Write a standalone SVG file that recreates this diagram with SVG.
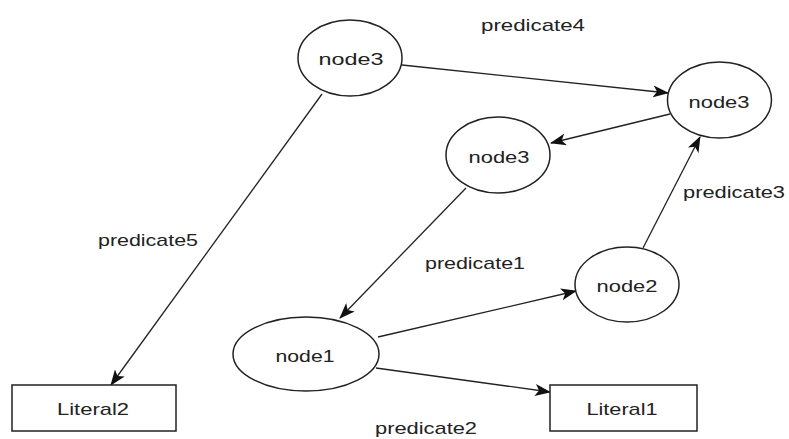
<svg xmlns="http://www.w3.org/2000/svg" width="789" height="439" viewBox="0 0 789 439">
<defs>
<marker id="arr" viewBox="0 0 16 12" refX="15" refY="6" markerWidth="16" markerHeight="12" markerUnits="userSpaceOnUse" orient="auto">
<path d="M0,0 L16,6 L0,12 L4,6 z" fill="#111"/>
</marker>
<style>
.n{fill:#fff;stroke:#222;stroke-width:1.5}
.t{font-family:"Liberation Sans",Arial,sans-serif;font-size:17px;fill:#222;text-anchor:middle}
.l{font-family:"Liberation Sans",Arial,sans-serif;font-size:17px;fill:#222}
.e{fill:none;stroke:#222;stroke-width:1.3;marker-end:url(#arr)}
</style>
</defs>
<rect width="789" height="439" fill="#fff"/>
<g id="edges">
<line class="e" x1="402" y1="65" x2="668" y2="93"/>
<line class="e" x1="670" y1="114" x2="551" y2="143"/>
<line class="e" x1="466" y1="188" x2="340" y2="318"/>
<line class="e" x1="378" y1="337" x2="576" y2="291"/>
<line class="e" x1="643" y1="248" x2="700" y2="137"/>
<line class="e" x1="376" y1="368" x2="550" y2="392"/>
<line class="e" x1="322" y1="94" x2="111" y2="385"/>
<text class="l" x="481" y="31" textLength="104" lengthAdjust="spacingAndGlyphs">predicate4</text>
<text class="l" x="98" y="246" textLength="100" lengthAdjust="spacingAndGlyphs">predicate5</text>
<text class="l" x="425" y="269" textLength="100" lengthAdjust="spacingAndGlyphs">predicate1</text>
<text class="l" x="683" y="198" textLength="102" lengthAdjust="spacingAndGlyphs">predicate3</text>
<text class="l" x="375" y="434" textLength="102" lengthAdjust="spacingAndGlyphs">predicate2</text>
</g>
<g id="node3a">
<ellipse class="n" cx="350" cy="58" rx="52" ry="38"/>
<text class="t" x="351" y="65" textLength="65" lengthAdjust="spacingAndGlyphs">node3</text>
</g>
<g id="node3b">
<ellipse class="n" cx="719.5" cy="100" rx="52" ry="38"/>
<text class="t" x="719" y="108" textLength="61" lengthAdjust="spacingAndGlyphs">node3</text>
</g>
<g id="node3c">
<ellipse class="n" cx="498" cy="155" rx="52" ry="38"/>
<text class="t" x="499" y="163" textLength="61" lengthAdjust="spacingAndGlyphs">node3</text>
</g>
<g id="node1">
<ellipse class="n" cx="306" cy="354" rx="73" ry="37"/>
<text class="t" x="305" y="362" textLength="59" lengthAdjust="spacingAndGlyphs">node1</text>
</g>
<g id="node2">
<ellipse class="n" cx="627" cy="284.5" rx="52" ry="37.5"/>
<text class="t" x="627" y="292" textLength="61" lengthAdjust="spacingAndGlyphs">node2</text>
</g>
<g id="literal2">
<rect class="n" x="12" y="385" width="164" height="46"/>
<text class="t" x="93" y="415" textLength="72" lengthAdjust="spacingAndGlyphs">Literal2</text>
</g>
<g id="literal1">
<rect class="n" x="550" y="385" width="147" height="46"/>
<text class="t" x="622" y="415" textLength="71" lengthAdjust="spacingAndGlyphs">Literal1</text>
</g>
</svg>
